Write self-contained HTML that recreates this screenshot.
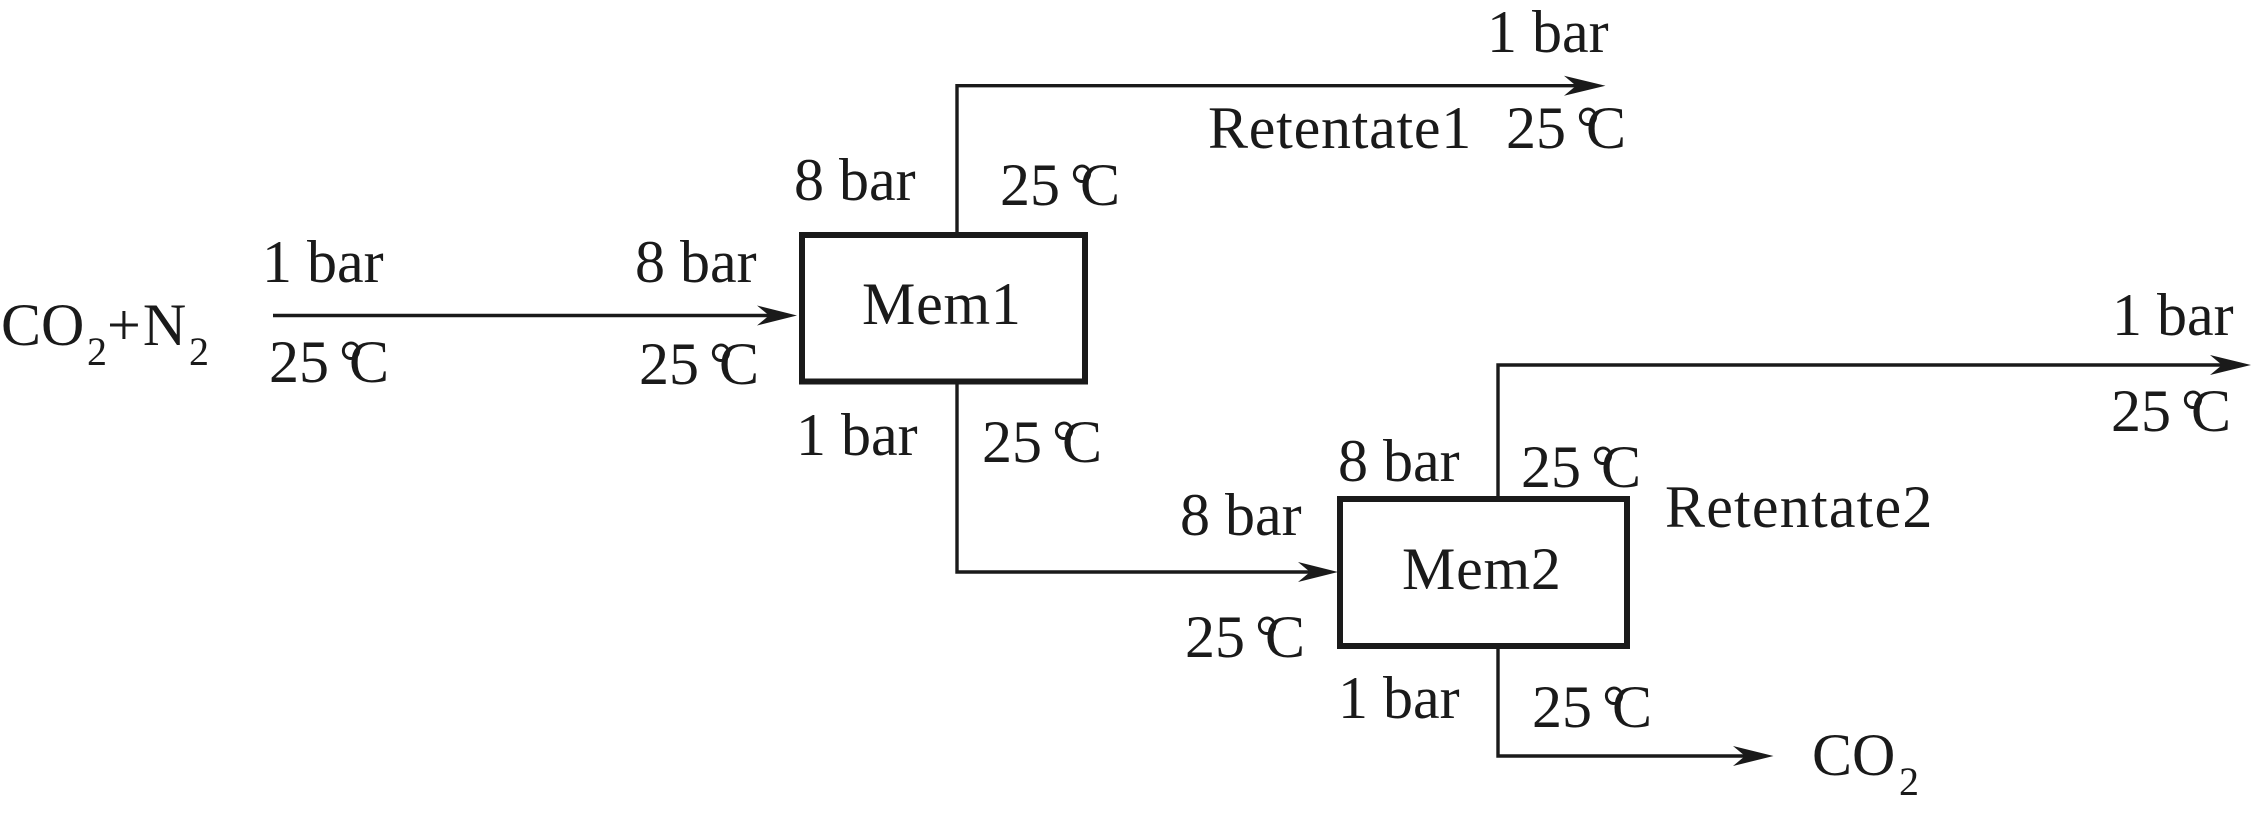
<!DOCTYPE html>
<html><head><meta charset="utf-8"><style>
html,body{margin:0;padding:0;background:#fff;width:2251px;height:815px;overflow:hidden}
svg{display:block}
text{font-family:"Liberation Serif","Noto Serif CJK SC",serif;font-size:60px;fill:#1a1a1a}
text.s{font-size:40px}
text.w{letter-spacing:.75px}
</style></head><body>
<svg width="2251" height="815" viewBox="0 0 2251 815" xmlns="http://www.w3.org/2000/svg">
<g fill="none" stroke="#1a1a1a" stroke-width="3.4">
<path d="M273 315.5H775"/>
<path d="M957 232V85.7H1580"/>
<path d="M957 384V572H1315"/>
<path d="M1498 496V365H2225"/>
<path d="M1498 649V756H1750"/>
</g>
<g fill="none" stroke="#1a1a1a" stroke-width="6">
<rect x="802" y="235" width="283" height="146.5"/>
<rect x="1340" y="499" width="287" height="147"/>
</g>
<g fill="#1a1a1a">
<path d="M797 315.5L757 305.5L769 315.5L757 325.5Z"/>
<path d="M1605.5 85.7L1564 75.7L1576 85.7L1564 95.7Z"/>
<path d="M1338 572L1298 562L1310 572L1298 582Z"/>
<path d="M2251 365L2210 355L2222 365L2210 375Z"/>
<path d="M1773.5 756L1733 746L1745 756L1733 766Z"/>
</g>
<text x="1" y="345">CO</text><text class="s" x="87" y="365">2</text><text x="107" y="345" style="letter-spacing:2px">+N</text><text class="s" x="189" y="365">2</text>
<text x="262" y="282">1 bar</text>
<text x="635" y="282">8 bar</text>
<text x="269" y="382">25<tspan dx="10">°</tspan><tspan dx="-14">C</tspan></text>
<text x="639" y="384">25<tspan dx="10">°</tspan><tspan dx="-14">C</tspan></text>
<text x="1487" y="52">1 bar</text>
<text class="w" x="1208" y="148">Retentate1</text>
<text x="1506" y="148">25<tspan dx="10">°</tspan><tspan dx="-14">C</tspan></text>
<text x="794" y="200">8 bar</text>
<text x="1000" y="205">25<tspan dx="10">°</tspan><tspan dx="-14">C</tspan></text>
<text class="w" x="862" y="324">Mem1</text>
<text x="796" y="455">1 bar</text>
<text x="982" y="462">25<tspan dx="10">°</tspan><tspan dx="-14">C</tspan></text>
<text x="1338" y="481">8 bar</text>
<text x="1521" y="487">25<tspan dx="10">°</tspan><tspan dx="-14">C</tspan></text>
<text x="1665" y="527" style="letter-spacing:1.2px">Retentate2</text>
<text x="1180" y="535">8 bar</text>
<text class="w" x="1402" y="589">Mem2</text>
<text x="1185" y="657">25<tspan dx="10">°</tspan><tspan dx="-14">C</tspan></text>
<text x="1338" y="718">1 bar</text>
<text x="1532" y="727">25<tspan dx="10">°</tspan><tspan dx="-14">C</tspan></text>
<text x="1812" y="775">CO</text><text class="s" x="1899" y="795">2</text>
<text x="2112" y="335">1 bar</text>
<text x="2111" y="431">25<tspan dx="10">°</tspan><tspan dx="-14">C</tspan></text>
</svg>
</body></html>
